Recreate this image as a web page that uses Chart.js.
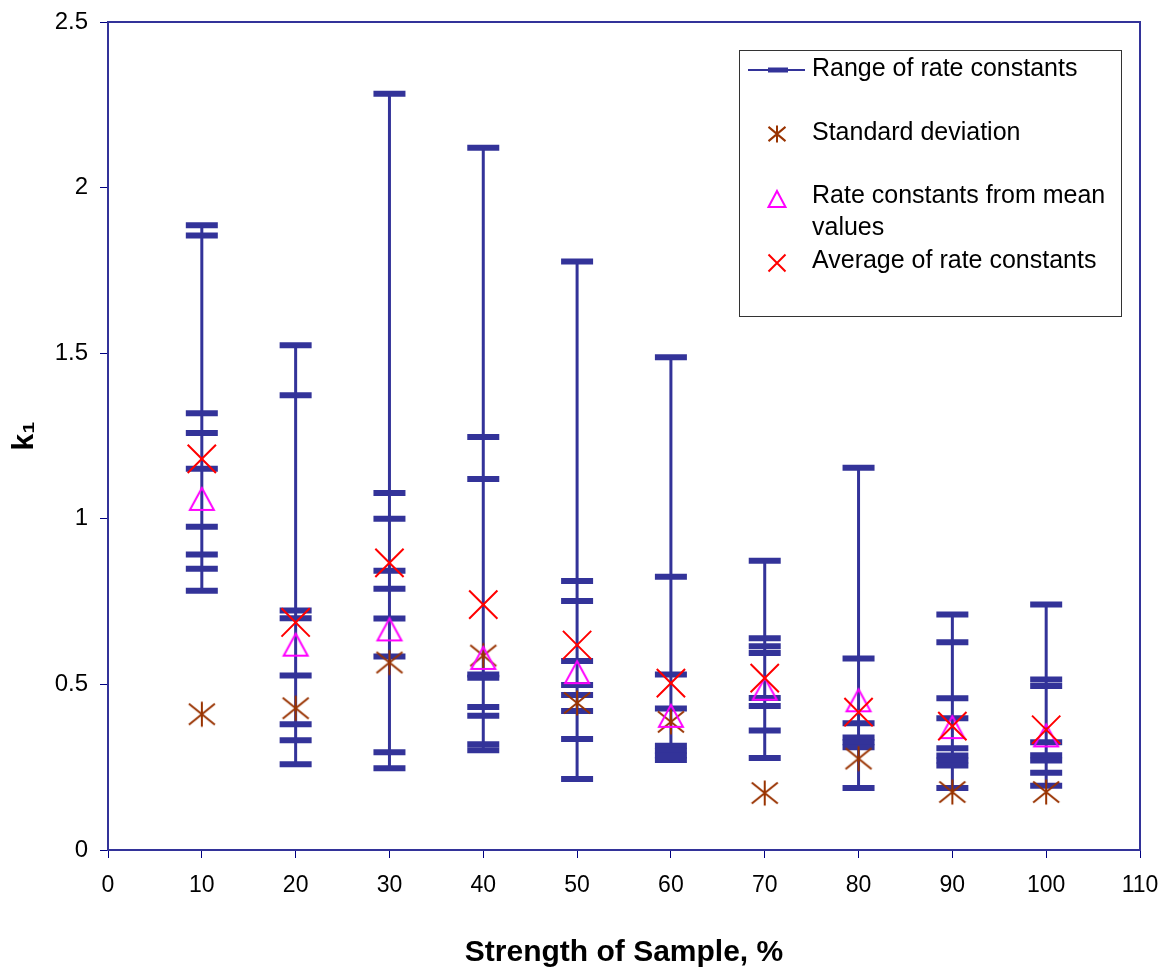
<!doctype html>
<html lang="en">
    <head>
        <meta charset="UTF-8" />
        <title>k1 vs strength of sample</title>
        <script src="https://cdn.jsdelivr.net/npm/chart.js"></script>
        <style>
            body { margin: 0; background: #fff; }
            #wrap { width: 1174px; height: 977px; }
        </style>
    </head>
    <body>
        <div id="wrap"><canvas id="chart"></canvas></div>
        <script>
            // Strength of sample, %
            const strength = [10, 20, 30, 40, 50, 60, 70, 80, 90, 100];

            // individual rate constants at each strength (drawn as dashes on a range line)
            const range10 = [1.886, 1.855, 1.319, 1.259, 1.151, 0.976, 0.892, 0.849, 0.783];
            const range20 = [1.524, 1.373, 0.723, 0.7, 0.527, 0.38, 0.331, 0.259];
            const range30 = [2.283, 1.078, 1.0, 0.843, 0.789, 0.699, 0.584, 0.295, 0.247];
            const range40 = [2.12, 1.247, 1.12, 0.53, 0.52, 0.432, 0.405, 0.319, 0.301];
            const range50 = [1.777, 0.812, 0.752, 0.571, 0.498, 0.468, 0.42, 0.335, 0.214];
            const range60 = [1.488, 0.825, 0.53, 0.427, 0.315, 0.3, 0.285, 0.272];
            const range70 = [0.873, 0.639, 0.615, 0.595, 0.459, 0.435, 0.361, 0.278];
            const range80 = [1.154, 0.578, 0.383, 0.34, 0.325, 0.31, 0.187];
            const range90 = [0.711, 0.627, 0.458, 0.398, 0.307, 0.285, 0.27, 0.255, 0.187];
            const range100 = [0.741, 0.515, 0.495, 0.325, 0.286, 0.27, 0.233, 0.194];
            const rangeGroups = [range10, range20, range30, range40, range50, range60, range70, range80, range90, range100];

            const stdDeviation = [0.41, 0.428, 0.566, 0.587, 0.444, 0.387, 0.172, 0.276, 0.175, 0.175];
            const rateFromMean = [1.06, 0.62, 0.666, 0.58, 0.537, 0.405, 0.487, 0.452, 0.371, 0.346];
            const averageRate = [1.181, 0.687, 0.867, 0.741, 0.619, 0.504, 0.519, 0.416, 0.374, 0.363];

            const xTicks = [0, 110, 10];
            const yTicks = [0, 2.5, 0.5];

            const NAVY = "#333399";
            const BROWN = "#993300";
            const MAGENTA = "#FF00FF";
            const RED = "#FF0000";

            function drawAsterisk(ctx, cx, cy, w, h) {
                ctx.beginPath();
                ctx.moveTo(cx, cy - h / 2);
                ctx.lineTo(cx, cy + h / 2);
                ctx.moveTo(cx - w / 2, cy - h * 0.42);
                ctx.lineTo(cx + w / 2, cy + h * 0.42);
                ctx.moveTo(cx + w / 2, cy - h * 0.42);
                ctx.lineTo(cx - w / 2, cy + h * 0.42);
                ctx.stroke();
            }
            function drawTriangle(ctx, cx, cy, w, h) {
                ctx.beginPath();
                ctx.moveTo(cx, cy - h / 2);
                ctx.lineTo(cx + w / 2, cy + h / 2);
                ctx.lineTo(cx - w / 2, cy + h / 2);
                ctx.closePath();
                ctx.stroke();
            }
            function drawX(ctx, cx, cy, s) {
                ctx.beginPath();
                ctx.moveTo(cx - s / 2, cy - s / 2);
                ctx.lineTo(cx + s / 2, cy + s / 2);
                ctx.moveTo(cx + s / 2, cy - s / 2);
                ctx.lineTo(cx - s / 2, cy + s / 2);
                ctx.stroke();
            }

            function markerCanvas(size, color, fn) {
                const c = document.createElement("canvas");
                c.width = size;
                c.height = size;
                const g = c.getContext("2d");
                g.strokeStyle = color;
                g.lineWidth = 2;
                fn(g, size / 2, size / 2);
                return c;
            }
            const asteriskImg = markerCanvas(30, BROWN, (g, cx, cy) => drawAsterisk(g, cx, cy, 26, 25));
            const triangleImg = markerCanvas(30, MAGENTA, (g, cx, cy) => drawTriangle(g, cx, cy, 24, 22));

            // range points, with a gap between strengths
            const rangeData = [];
            strength.forEach((s, i) => {
                rangeGroups[i].forEach((v) => rangeData.push({ x: s, y: v }));
                rangeData.push({ x: s, y: null });
            });
            const pts = (arr) => strength.map((s, i) => ({ x: s, y: arr[i] }));

            const frameAndLegend = {
                id: "frameAndLegend",
                beforeDatasetsDraw(chart) {
                    const { ctx, chartArea: a } = chart;
                    ctx.save();
                    ctx.strokeStyle = NAVY;
                    ctx.lineWidth = 2;
                    ctx.strokeRect(a.left, a.top, a.right - a.left, a.bottom - a.top);
                    ctx.restore();
                },
                afterDraw(chart) {
                    const ctx = chart.ctx;
                    ctx.save();
                    ctx.fillStyle = "#fff";
                    ctx.fillRect(740, 51, 381, 265);
                    ctx.strokeStyle = "#333";
                    ctx.lineWidth = 1;
                    ctx.strokeRect(739.5, 50.5, 382, 266);

                    // range icon
                    ctx.strokeStyle = NAVY;
                    ctx.lineWidth = 2;
                    ctx.beginPath();
                    ctx.moveTo(748, 70);
                    ctx.lineTo(805, 70);
                    ctx.stroke();
                    ctx.lineWidth = 5;
                    ctx.beginPath();
                    ctx.moveTo(768, 70);
                    ctx.lineTo(788, 70);
                    ctx.stroke();

                    ctx.lineWidth = 2;
                    ctx.strokeStyle = BROWN;
                    drawAsterisk(ctx, 777, 134, 17, 17);
                    ctx.strokeStyle = MAGENTA;
                    drawTriangle(ctx, 777, 199, 17, 16);
                    ctx.strokeStyle = RED;
                    drawX(ctx, 777, 263, 17);

                    ctx.fillStyle = "#000";
                    ctx.font = "25px 'Liberation Sans', Arial, sans-serif";
                    ctx.textBaseline = "alphabetic";
                    ctx.fillText("Range of rate constants", 812, 76);
                    ctx.fillText("Standard deviation", 812, 140);
                    ctx.fillText("Rate constants from mean", 812, 203);
                    ctx.fillText("values", 812, 235);
                    ctx.fillText("Average of rate constants", 812, 268);
                    ctx.restore();
                },
            };

            new Chart(document.getElementById("chart").getContext("2d"), {
                type: "scatter",
                data: {
                    datasets: [
                        {
                            label: "Average of rate constants",
                            data: pts(averageRate),
                            pointStyle: "crossRot",
                            pointRadius: 20,
                            pointBorderWidth: 2,
                            borderColor: RED,
                            backgroundColor: RED,
                        },
                        {
                            label: "Rate constants from mean values",
                            data: pts(rateFromMean),
                            pointStyle: triangleImg,
                            borderColor: MAGENTA,
                            backgroundColor: MAGENTA,
                        },
                        {
                            label: "Standard deviation",
                            data: pts(stdDeviation),
                            pointStyle: asteriskImg,
                            borderColor: BROWN,
                            backgroundColor: BROWN,
                        },
                        {
                            label: "Range of rate constants",
                            data: rangeData,
                            showLine: true,
                            spanGaps: false,
                            borderColor: NAVY,
                            borderWidth: 3,
                            pointStyle: "line",
                            pointRadius: 16,
                            pointBorderWidth: 6,
                            pointBorderColor: NAVY,
                            backgroundColor: NAVY,
                        },
                    ],
                },
                options: {
                    animation: false,
                    responsive: true,
                    maintainAspectRatio: false,
                    events: [],
                    layout: { padding: { top: 20, right: 34, left: 0, bottom: 0 } },
                    plugins: {
                        legend: { display: false },
                        tooltip: { enabled: false },
                    },
                    scales: {
                        x: {
                            type: "linear",
                            min: xTicks[0],
                            max: xTicks[1],
                            afterFit: (s) => { s.height = 127; },
                            ticks: {
                                stepSize: xTicks[2],
                                color: "#000",
                                padding: 14,
                                maxRotation: 0,
                                font: { family: "'Liberation Sans', Arial, sans-serif", size: 23 },
                            },
                            grid: { drawOnChartArea: false, tickLength: 8, color: "#000080", lineWidth: 1 },
                            border: { color: "#000080", width: 2 },
                            title: {
                                display: true,
                                text: "Strength of Sample, %",
                                color: "#000",
                                padding: { top: 0, bottom: 6 },
                                font: { family: "'Liberation Sans', Arial, sans-serif", size: 30, weight: "bold" },
                            },
                        },
                        y: {
                            min: yTicks[0],
                            max: yTicks[1],
                            afterFit: (s) => {
                                s.width = 108;
                                s.paddingTop = 0;
                                s.paddingBottom = 0;
                            },
                            ticks: {
                                stepSize: yTicks[2],
                                color: "#000",
                                padding: 12,
                                callback: (v) => String(v),
                                font: { family: "'Liberation Sans', Arial, sans-serif", size: 24 },
                            },
                            grid: { drawOnChartArea: false, tickLength: 8, color: "#000080", lineWidth: 1 },
                            border: { color: "#000080", width: 2 },
                            title: {
                                display: true,
                                text: "k₁",
                                color: "#000",
                                padding: { top: 7, bottom: 0 },
                                font: { family: "'Liberation Sans', Arial, sans-serif", size: 30, weight: "bold" },
                            },
                        },
                    },
                },
                plugins: [frameAndLegend],
            });
        </script>
    </body>
</html>
